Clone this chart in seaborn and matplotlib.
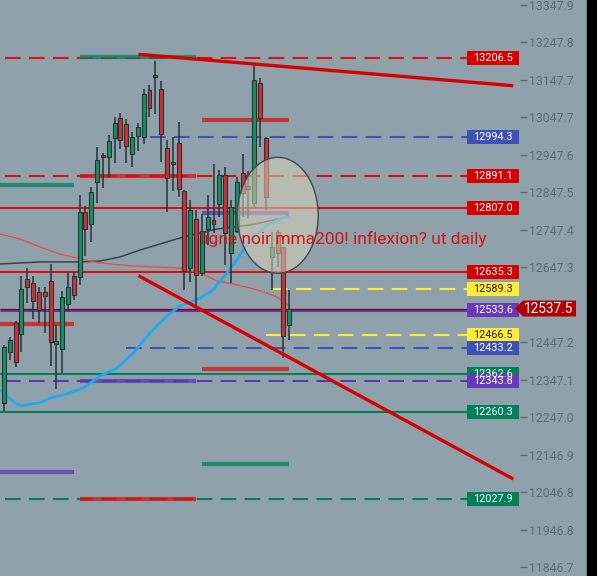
import numpy as np
import pandas as pd
import matplotlib
matplotlib.use("Agg")
import matplotlib.pyplot as plt
import matplotlib.transforms as mtransforms
from matplotlib.patches import Ellipse, Rectangle, Polygon
import seaborn as sns

# --- bougies ---
opens = [12285.3, 12421.5, 12498.9, 12469.5, 12616.4, 12605.7, 12581.7, 12581.7, 12611.0, 12442.9,
         12429.5, 12549.6, 12624.4, 12621.7, 12795.3, 12763.2, 12875.3, 12947.4, 12942.1, 12992.8,
         13046.2, 13030.2, 12950.1, 12998.2, 12995.5, 13120.9, 13155.7, 13123.6, 12966.1, 12923.4,
         12979.5, 12851.3, 12645.7, 12776.5, 12632.4, 12749.9, 12773.9, 12816.6, 12894.0, 12685.8,
         12744.5, 12899.4, 12864.6, 12819.3, 13139.7, 12992.8, 12675.1, 12741.8, 12701.8, 12493.6]
highs = [12440.2, 12461.5, 12504.2, 12624.4, 12645.7, 12624.4, 12595.0, 12595.0, 12656.4, 12493.6,
         12584.3, 12635.1, 12635.1, 12840.6, 12811.3, 12861.9, 12968.8, 12952.8, 13000.8, 13048.9,
         13059.6, 13043.5, 13008.8, 13032.9, 13123.6, 13134.3, 13198.4, 13145.0, 12987.5, 12995.5,
         13035.5, 12854.0, 12827.3, 12800.6, 12789.9, 12840.6, 12923.4, 12907.4, 12915.4, 12827.3,
         12888.7, 12950.1, 12904.7, 13187.7, 13153.0, 12995.5, 12741.8, 12747.2, 12701.8, 12587.0]
lows = [12264.0, 12400.1, 12381.4, 12421.5, 12552.3, 12509.6, 12498.9, 12472.2, 12384.1, 12322.7,
        12365.4, 12530.9, 12560.3, 12600.4, 12677.8, 12715.2, 12819.3, 12859.3, 12888.7, 12926.1,
        12963.5, 12926.1, 12915.4, 12958.1, 12976.8, 13048.9, 13056.9, 12928.7, 12795.3, 12851.3,
        12835.3, 12587.0, 12608.4, 12538.9, 12624.4, 12707.2, 12739.2, 12781.9, 12653.8, 12605.7,
        12739.2, 12781.9, 12779.2, 12805.9, 12968.8, 12800.6, 12587.0, 12648.4, 12405.5, 12453.5]
closes = [12434.8, 12453.5, 12394.8, 12589.7, 12595.0, 12557.6, 12533.6, 12571.0, 12448.2, 12450.9,
          12568.3, 12595.0, 12573.7, 12795.3, 12749.9, 12848.6, 12934.1, 12942.1, 12984.8, 13032.9,
          12987.5, 12971.5, 12995.5, 13022.2, 13110.3, 13072.9, 13161.0, 13003.5, 12886.0, 12928.7,
          12856.6, 12637.7, 12800.6, 12627.1, 12744.5, 12781.9, 12763.2, 12894.0, 12739.2, 12808.6,
          12875.3, 12845.9, 12856.6, 13147.7, 13046.2, 12835.3, 12701.8, 12685.8, 12464.2, 12537.5]

# moyennes mobiles (index bougie, prix)
mma200_x = [-0.7, 2.75, 6.2, 13.1, 16.5, 19.9, 23.4, 25.1, 30.8, 36.6, 42.3, 47.9, 48.8]
mma200_y = [12656.4, 12659.1, 12661.8, 12661.8, 12664.4, 12675.1, 12693.8, 12701.8, 12728.5,
            12749.9, 12760.5, 12779.2, 12784.5]
mm_red_x = [-0.7, 2.75, 6.2, 9.6, 13.1, 16.5, 22.2, 30.2, 33.7, 36.6, 39.4, 42.3, 45.2, 46.9, 48.8]
mm_red_y = [12736.5, 12723.2, 12701.8, 12683.1, 12669.8, 12659.1, 12651.1, 12645.7, 12632.4,
            12611.0, 12603.0, 12592.3, 12579.0, 12568.3, 12546.9]
mm_blue_x = [-0.7, 1.9, 3.1, 4.5, 6.2, 7.9, 10.8, 13.6, 16.5, 19.4, 22.2, 25.1, 28.0, 30.2, 33.7,
             35.9, 39.4, 42.3, 45.2, 47.9, 48.8]
mm_blue_y = [12320.0, 12285.3, 12277.3, 12282.7, 12285.3, 12298.6, 12309.3, 12325.3, 12357.3,
             12378.7, 12418.7, 12472.2, 12517.6, 12544.3, 12565.6, 12587.0, 12653.8, 12720.5,
             12760.5, 12779.2, 12781.9]

# niveaux horizontaux
level_prices = [13206.5, 12994.3, 12891.1, 12807.0, 12635.3, 12589.3, 12533.6, 12466.5, 12433.2,
                12362.6, 12343.8, 12260.3, 12027.9]
level_colors = ['red', 'blue', 'red', 'red', 'red', 'yellow', 'purple', 'yellow', 'blue',
                'green', 'purple', 'green', 'green']
level_dashed = [True, True, True, False, False, True, False, True, True, False, True, False, True]
level_start = [0.2, 25.1, 0.2, -0.7, -0.7, 46.0, -0.7, 45.0, 21.0, -0.7, 0.2, -0.7, 0.2]

# segments épais
seg_prices = [13210.0, 12891.1, 12868.2, 13041.7, 12791.8, 12497.0, 12376.9, 12343.8, 12101.9, 12123.3, 12027.9]
seg_start = [13, 13, -0.7, 34, 34, -0.7, 34, 13, -0.7, 34, 13]
seg_end = [33, 33, 12, 49, 49, 12, 49, 33, 12, 49, 33]
seg_colors = ['green', 'red', 'green', 'red', 'purple', 'red', 'red', 'purple', 'purple', 'green', 'red']

# lignes de tendance
trend_x = [23.1, 87.5]
trend_top = [13216.3, 13132.4]
trend_bottom = [12625.2, 12082.4]

last_price = 12537.5
ticks = [13347.9, 13247.8, 13147.7, 13047.7, 12947.6, 12847.5, 12747.4, 12647.3,
         12447.2, 12347.1, 12247.0, 12146.9, 12046.8, 11946.8, 11846.7]

palette = {'red': '#dd0f0f', 'blue': '#3f51b5', 'yellow': '#ffeb3b',
           'purple': '#5e35b1', 'green': '#00805a'}
box_colors = {'red': '#d50000', 'blue': '#3f51b5', 'yellow': '#ffeb3b',
              'purple': '#673ab7', 'green': '#00805a'}
bg = '#8fa2ab'

sns.set_style('dark', {'axes.facecolor': bg, 'figure.facecolor': bg})
plt.rcParams['font.family'] = ['Roboto', 'DejaVu Sans']

fig = plt.figure(figsize=(5.97, 5.76), dpi=100)
ax = fig.add_axes([0, 0, 520 / 597, 1])
ax.set_facecolor(bg)
for s in ax.spines.values():
    s.set_visible(False)

idx = np.arange(len(opens))
o = np.array(opens); c = np.array(closes)
up = c >= o
cols = np.where(up, '#17905e', '#d32f2f')
body_lo = np.minimum(o, c)
body_h = np.maximum(np.abs(c - o), 4)

line_end = 79.55
px = 2.6698  # prix par pixel
dash = (0, (7.5, 4))

# niveaux
for p, col, dsh, st in zip(level_prices, level_colors, level_dashed, level_start):
    lw = 2.2 if col == 'purple' and not dsh else 1.5
    ax.hlines(p, st, line_end, colors=palette[col], lw=lw,
              linestyles=dash if dsh else 'solid', zorder=2)
ax.hlines(last_price, -0.7, 88.7, colors='#8b0000', lw=0.9, zorder=2)

# segments
for p, st, en, col in zip(seg_prices, seg_start, seg_end, seg_colors):
    ax.hlines(p, st, en, colors=palette[col], lw=3.0, alpha=0.75, zorder=2.5)
ax.hlines(12027.9, 13.7, 33, colors=palette['red'], lw=1.6, linestyles=(0, (3, 8.5)), zorder=2.6)

# moyennes mobiles
sns.lineplot(x=mma200_x, y=mma200_y, ax=ax, color='#3b4349', lw=1.1, zorder=3)
sns.lineplot(x=mm_red_x, y=mm_red_y, ax=ax, color='#e4504f', lw=1.0, zorder=3)
sns.lineplot(x=mm_blue_x, y=mm_blue_y, ax=ax, color='#1eaaf1', lw=2.0, zorder=3)

# bougies
ax.vlines(idx, lows, highs, colors='#263238', lw=1.1, zorder=4)
ax.bar(idx, body_h, bottom=body_lo, width=0.68, color=cols, edgecolor='#263238', lw=0.8, zorder=5)

# tendances
ax.plot(trend_x, trend_top, color='#d80000', lw=2.4, solid_capstyle='butt', zorder=6)
ax.plot(trend_x, trend_bottom, color='#d80000', lw=2.4, solid_capstyle='butt', zorder=6)

# ellipse
ax.add_patch(Ellipse((47.04, 12786.4), 13.9, 309.7, fc='#d8d2b8', alpha=0.55,
                     ec='none', zorder=7))
ax.add_patch(Ellipse((47.04, 12786.4), 13.9, 309.7, fc='none', ec='#3f474d', lw=1.0, zorder=7))

ax.text(33.7, 12723.0, 'ligne noir mma200! inflexion? ut daily', color='#d41414',
        fontsize=12.5, va='center', ha='left', zorder=8)

# étiquettes de prix
trans = mtransforms.blended_transform_factory(ax.transAxes, ax.transData)
for p, col in zip(level_prices, level_colors):
    ax.add_patch(Rectangle((0.898, p - 7 * px), 0.1, 14 * px, transform=trans,
                           fc=box_colors[col], ec='none', zorder=9, clip_on=False))
    ax.text(0.948, p, f'{p:.1f}', transform=trans, ha='center', va='center',
            color='#222222' if col == 'yellow' else 'white', fontsize=7.8, zorder=10)

ax.add_patch(Polygon([(515 / 520, last_price), (523 / 520, last_price + 8 * px),
                      (576 / 520, last_price + 8 * px), (576 / 520, last_price - 8 * px),
                      (523 / 520, last_price - 8 * px)], closed=True, transform=trans,
                     fc='#b00000', ec='none', zorder=11, clip_on=False))
ax.text(549 / 520, last_price, f'{last_price:.1f}', transform=trans, ha='center', va='center',
        color='white', fontsize=9.8, zorder=12, clip_on=False)

ax.set_xlim(-0.687, 88.66)
ax.set_ylim(11823.4, 13361.25)
ax.set_xticks([])
ax.yaxis.tick_right()
ax.set_yticks(ticks)
ax.set_yticklabels([f'{t:.1f}' for t in ticks])
ax.tick_params(axis='y', length=5, width=1, colors='#5f6b72', labelsize=8.8, pad=1.5, right=True)
ax.grid(False)

fig.patches.append(Rectangle((587 / 597, 0), 10 / 597, 1, transform=fig.transFigure,
                             color='black', zorder=0))

fig.savefig('out.png', dpi=100, facecolor=bg)
